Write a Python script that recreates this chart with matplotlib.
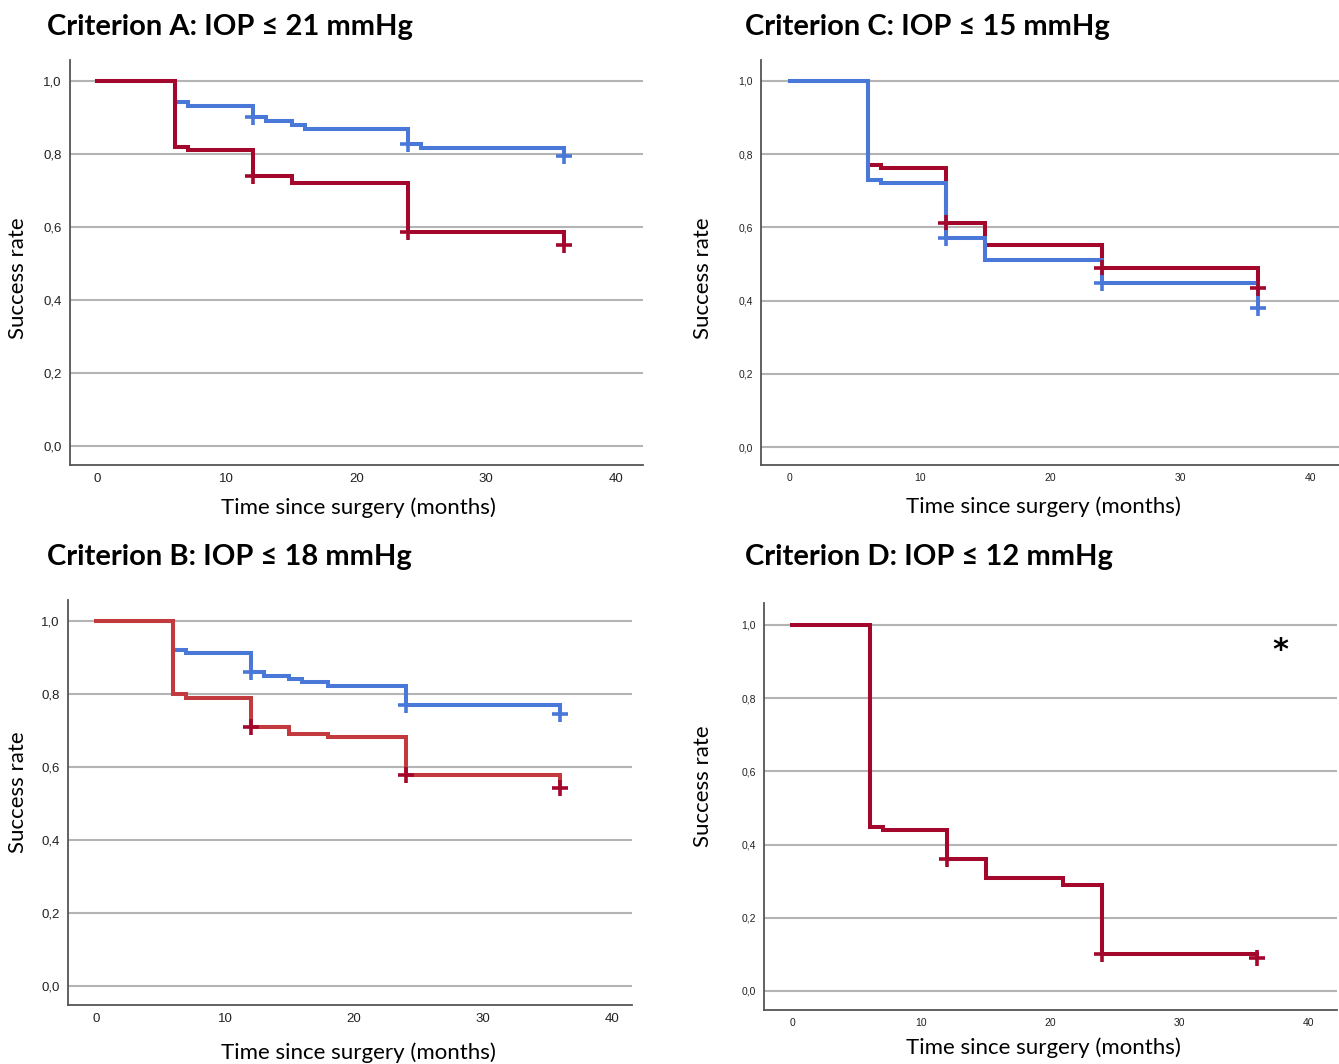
import matplotlib.pyplot as plt
from matplotlib.ticker import FuncFormatter

# Kaplan-Meier style step data (months, success rate)
a_red_t = [0, 6, 7, 12, 15, 24, 36]
a_red_s = [1.0, 0.82, 0.811, 0.741, 0.72, 0.587, 0.552]
a_red_cens_t = [12, 24, 36]
a_red_cens_s = [0.741, 0.587, 0.552]
a_blue_t = [0, 6, 7, 12, 13, 15, 16, 24, 25, 36]
a_blue_s = [1.0, 0.942, 0.933, 0.901, 0.892, 0.881, 0.870, 0.829, 0.818, 0.796]
a_blue_cens_t = [12, 24, 36]
a_blue_cens_s = [0.901, 0.829, 0.796]

b_red_t = [0, 6, 7, 12, 15, 18, 24, 36]
b_red_s = [1.0, 0.80, 0.79, 0.711, 0.691, 0.682, 0.578, 0.543]
b_red_cens_t = [12, 24, 36]
b_red_cens_s = [0.711, 0.578, 0.543]
b_blue_t = [0, 6, 7, 12, 13, 15, 16, 18, 24, 36]
b_blue_s = [1.0, 0.921, 0.912, 0.862, 0.851, 0.842, 0.833, 0.821, 0.769, 0.745]
b_blue_cens_t = [12, 24, 36]
b_blue_cens_s = [0.862, 0.769, 0.745]

c_red_t = [0, 6, 7, 12, 15, 24, 36]
c_red_s = [1.0, 0.771, 0.762, 0.611, 0.551, 0.49, 0.434]
c_red_cens_t = [12, 24, 36]
c_red_cens_s = [0.611, 0.49, 0.434]
c_blue_t = [0, 6, 7, 12, 15, 24, 36]
c_blue_s = [1.0, 0.73, 0.721, 0.572, 0.51, 0.449, 0.381]
c_blue_cens_t = [12, 24, 36]
c_blue_cens_s = [0.572, 0.449, 0.381]

d_red_t = [0, 6, 7, 12, 15, 21, 24, 36]
d_red_s = [1.0, 0.449, 0.44, 0.36, 0.31, 0.29, 0.102, 0.09]
d_red_cens_t = [12, 24, 36]
d_red_cens_s = [0.36, 0.102, 0.09]

titles = ["Criterion A: IOP ≤ 21 mmHg", "Criterion C: IOP ≤ 15 mmHg",
          "Criterion B: IOP ≤ 18 mmHg", "Criterion D: IOP ≤ 12 mmHg"]
yticks = [0.0, 0.2, 0.4, 0.6, 0.8, 1.0]
xticks = [0, 10, 20, 30, 40]

RED = "#a3082c"
RED_B = "#c23a3e"
BLUE = "#4a78d8"
GRID = "#b4b4b4"

W, H = 1339, 1064
fig = plt.figure(figsize=(W / 100, H / 100), dpi=100)


def px_axes(l, r, t, b):
    return fig.add_axes([l / W, 1 - b / H, (r - l) / W, (b - t) / H])


def km(ax, t, s, ct, cs, color, mcolor=None):
    ax.step(t, s, where="post", color=color, lw=2.9, solid_joinstyle="miter", zorder=3)
    ax.plot(ct, cs, ls="none", marker="+", ms=11, mew=2.6,
            color=mcolor or color, zorder=4)


def style(ax, xlim, ylim, tick_fs):
    ax.set_xlim(*xlim)
    ax.set_ylim(*ylim)
    ax.set_yticks(yticks)
    ax.set_xticks(xticks)
    ax.yaxis.set_major_formatter(FuncFormatter(lambda v, p: f"{v:.1f}".replace(".", ",")))
    for y in yticks:
        ax.axhline(y, color=GRID, lw=1.5, zorder=1)
    for sp in ["top", "right"]:
        ax.spines[sp].set_visible(False)
    for sp in ["left", "bottom"]:
        ax.spines[sp].set_color("#555555")
        ax.spines[sp].set_linewidth(1.3)
    ax.tick_params(length=0, labelsize=tick_fs, colors="#222222", pad=6)
    for lab in ax.get_xticklabels() + ax.get_yticklabels():
        lab.set_family("Liberation Sans")


axA = px_axes(70, 643, 60, 465)
axC = px_axes(761, 1339, 60, 465)
axB = px_axes(68, 632, 600, 1005)
axD = px_axes(764, 1337, 603, 1010)

km(axA, a_blue_t, a_blue_s, a_blue_cens_t, a_blue_cens_s, BLUE)
km(axA, a_red_t, a_red_s, a_red_cens_t, a_red_cens_s, RED)
style(axA, (-2.08, 42.08), (-0.052, 1.058), 9.5)

km(axC, c_red_t, c_red_s, c_red_cens_t, c_red_cens_s, RED)
km(axC, c_blue_t, c_blue_s, c_blue_cens_t, c_blue_cens_s, BLUE)
style(axC, (-2.23, 42.23), (-0.049, 1.057), 7.5)

km(axB, b_blue_t, b_blue_s, b_blue_cens_t, b_blue_cens_s, BLUE)
km(axB, b_red_t, b_red_s, b_red_cens_t, b_red_cens_s, RED_B, RED)
style(axB, (-2.17, 41.55), (-0.052, 1.058), 9.5)

km(axD, d_red_t, d_red_s, d_red_cens_t, d_red_cens_s, RED)
style(axD, (-2.17, 42.17), (-0.052, 1.06), 7.5)
axD.text(37.8, 0.93, "*", fontsize=22, fontweight="bold", ha="center", va="center")

# titles and axis labels placed like the original panels
title_pos = [(47, 27), (745, 27), (47, 557), (745, 557)]
for (x, y), t in zip(title_pos, titles):
    fig.text(x / W, 1 - y / H, t, fontsize=21, fontweight="bold", family="Lato",
             ha="left", va="center")

ylab_pos = [(18, 278), (703, 278), (18, 792), (703, 786)]
for x, y in ylab_pos:
    fig.text(x / W, 1 - y / H, "Success rate", fontsize=16, family="Lato",
             rotation=90, ha="center", va="center")

xlab_pos = [(358, 508), (1043, 507), (358, 1053), (1043, 1048)]
for x, y in xlab_pos:
    fig.text(x / W, 1 - y / H, "Time since surgery (months)", fontsize=16, family="Lato",
             ha="center", va="center")

fig.savefig("out.png", dpi=100)
